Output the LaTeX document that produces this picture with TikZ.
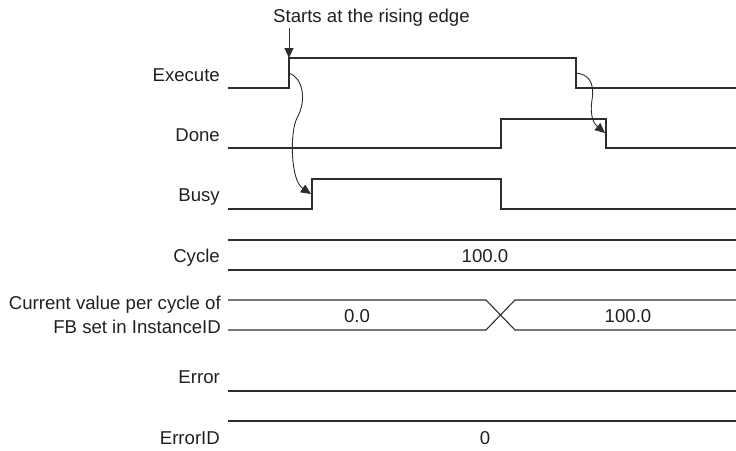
\documentclass[tikz,border=0pt]{standalone}
\usepackage{fontspec}
\setmainfont{Liberation Sans}
\usetikzlibrary{arrows.meta}
\definecolor{linec}{RGB}{45,45,45}
\definecolor{textc}{RGB}{35,31,32}
\begin{document}
\begin{tikzpicture}[x=1pt,y=-1pt,
  sig/.style={draw=linec,line width=1.1pt,line join=miter},
  lbl/.style={anchor=base east,inner sep=0pt,text=textc,font=\fontsize{18.6}{22}\selectfont},
  val/.style={anchor=base,inner sep=0pt,text=textc,font=\fontsize{18.6}{22}\selectfont},
  arr/.style={draw=linec,line width=0.9pt,-{Triangle[length=10pt,width=9pt]}}]
\useasboundingbox (0,0) rectangle (736,450);
% labels
\node[lbl] (lexe) at (220,81) {Execute};
\node[lbl] (ldone) at (220,141.5) {Done};
\node[lbl] (lbusy) at (220,201.5) {Busy};
\node[lbl] (lcyc) at (220,262) {Cycle};
\node[lbl] (lcur1) at (221,309.5) {Current value per cycle of};
\node[lbl] (lcur2) at (221,333.5) {FB set in InstanceID};
\node[lbl] (lerr) at (220,383) {Error};
\node[lbl] (lerrid) at (220,444) {ErrorID};
% signals
\draw[sig] (228,88) -- (289,88) -- (289,58) -- (576,58) -- (576,88) -- (736,88);
\draw[sig] (228,148) -- (501,148) -- (501,119) -- (606,119) -- (606,148) -- (736,148);
\draw[sig] (228,209) -- (312,209) -- (312,179) -- (501,179) -- (501,209) -- (736,209);
\draw[sig] (228,240) -- (736,240);
\draw[sig] (228,270) -- (736,270);
\draw[sig] (228,300) -- (486,300) -- (515,330) -- (736,330);
\draw[sig] (228,330) -- (486,330) -- (515,300) -- (736,300);
\draw[sig] (228,391) -- (736,391);
\draw[sig] (228,421) -- (736,421);
% values
\node[val] (vcyc) at (485,262) {100.0};
\node[val] (vcur0) at (357,322) {0.0};
\node[val] (vcur1) at (628,322) {100.0};
\node[val] (verrid) at (485,444) {0};
% annotation
\node[val,anchor=base west] (note) at (273,22.5) {Starts at the rising edge};
\coordinate (ntop) at (289,28);
\coordinate (nend) at (289,58);
\draw[arr] (ntop) -- (nend);
\coordinate (s1) at (289,73);
\coordinate (e1) at (311,194);
\draw[arr] (s1) .. controls (303,78) and (307,100) .. (297,118)
  .. controls (290,131) and (290,180) .. (e1);
\coordinate (s2) at (576,73);
\coordinate (e2) at (605,133);
\draw[arr] (s2) .. controls (588,74) and (595,82) .. (592,100)
  .. controls (590,112) and (592,122) .. (e2);
\end{tikzpicture}
\end{document}
